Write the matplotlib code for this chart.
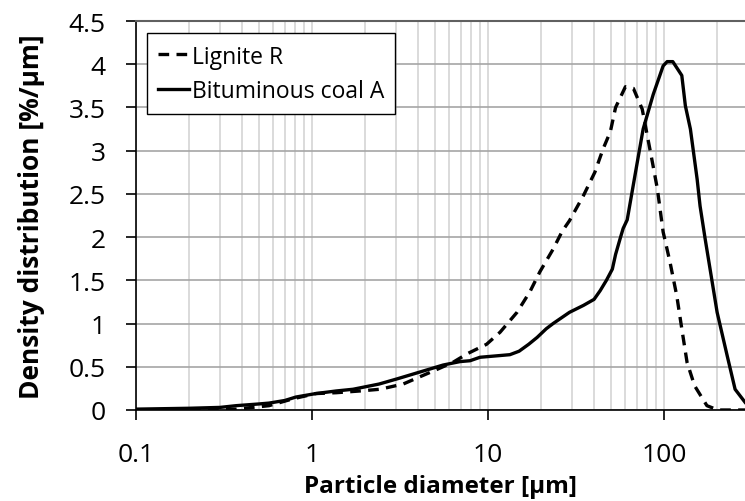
import matplotlib
matplotlib.use("Agg")
import matplotlib.pyplot as plt
from matplotlib.ticker import LogLocator, FixedLocator, FixedFormatter, NullFormatter

plt.rcParams['font.family'] = ['Open Sans', 'DejaVu Sans']

# Bituminous coal A
bit_x = [0.1, 0.2, 0.3, 0.37, 0.5, 0.57, 0.7, 0.81, 1.05, 1.37, 1.71, 2.4, 3.04, 4.11, 5.55,
         6.93, 7.9, 9.0, 11.7, 13.3, 15, 17, 19, 21.4, 23.4, 29, 34.8, 40, 43.3, 47, 50.8, 53,
         56.2, 58.5, 61.7, 70.3, 76, 86.7, 98.7, 104, 112, 126, 132, 141, 154, 160, 171, 200,
         228, 253, 288]
bit_y = [0.01, 0.02, 0.03, 0.05, 0.07, 0.08, 0.11, 0.15, 0.19, 0.22, 0.24, 0.30, 0.36, 0.44, 0.52,
         0.56, 0.57, 0.61, 0.63, 0.64, 0.68, 0.76, 0.84, 0.94, 1.0, 1.13, 1.21, 1.28, 1.38, 1.50,
         1.63, 1.8, 1.98, 2.1, 2.2, 2.86, 3.25, 3.65, 3.98, 4.03, 4.03, 3.87, 3.52, 3.25, 2.67,
         2.36, 1.98, 1.13, 0.63, 0.24, 0.09]

# Lignite R
lig_x = [0.1, 0.2, 0.37, 0.57, 0.78, 1.05, 1.37, 1.87, 2.43, 3.29, 4.27, 5.13, 6.3, 7.6, 9.8,
         11.7, 14.6, 17.3, 19.7, 23.4, 26.4, 29, 34.8, 40.4, 45, 49.5, 53, 60.3, 66.9, 75.1,
         80.3, 85.7, 91.5, 98.7, 108, 118, 126, 135, 149, 175, 202, 288]
lig_y = [0.0, 0.0, 0.01, 0.05, 0.13, 0.19, 0.20, 0.22, 0.24, 0.30, 0.40, 0.47, 0.55, 0.65, 0.76,
         0.90, 1.13, 1.37, 1.60, 1.86, 2.07, 2.19, 2.48, 2.75, 3.02, 3.22, 3.50, 3.74, 3.72, 3.48,
         3.17, 2.87, 2.56, 2.06, 1.71, 1.32, 0.94, 0.55, 0.28, 0.05, 0.0, 0.0]

x_ticks = [0.1, 1, 10, 100]
x_tick_labels = ['0.1', '1', '10', '100']
y_ticks = [0, 0.5, 1, 1.5, 2, 2.5, 3, 3.5, 4, 4.5]
y_tick_labels = ['0', '0.5', '1', '1.5', '2', '2.5', '3', '3.5', '4', '4.5']

fig = plt.figure(figsize=(7.45, 5.02), dpi=100)
ax = fig.add_axes([136/745, 1 - 411/502, 1 - 136/745, (411 - 22)/502])

ax.plot(lig_x, lig_y, color='black', lw=2.4, linestyle=(0, (3.2, 2.2)), label='Lignite R', zorder=3)
ax.plot(bit_x, bit_y, color='black', lw=2.4, label='Bituminous coal A', zorder=3)

ax.set_xscale('log')
ax.set_xlim(0.1, 288)
ax.set_ylim(0, 4.5)

ax.xaxis.set_major_locator(FixedLocator(x_ticks))
ax.xaxis.set_major_formatter(FixedFormatter(x_tick_labels))
ax.xaxis.set_minor_locator(LogLocator(base=10, subs=range(2, 10), numticks=20))
ax.xaxis.set_minor_formatter(NullFormatter())
ax.yaxis.set_major_locator(FixedLocator(y_ticks))
ax.yaxis.set_major_formatter(FixedFormatter(y_tick_labels))

ax.grid(True, which='major', axis='y', color='#a6a6a6', lw=1.2)
ax.grid(True, which='both', axis='x', color='#d4d4d4', lw=1.2)
ax.set_axisbelow(True)

ax.tick_params(axis='x', which='major', direction='out', length=7, width=1.2, colors='black',
               labelsize=19, pad=16)
ax.tick_params(axis='x', which='minor', length=0)
ax.tick_params(axis='y', which='major', direction='out', length=7, width=1.2, colors='black',
               labelsize=19, pad=15)

ax.spines['right'].set_visible(False)
ax.spines['top'].set_color('#606060')
ax.spines['top'].set_linewidth(1.5)
ax.spines['left'].set_color('black')
ax.spines['left'].set_linewidth(1.2)
ax.spines['bottom'].set_color('black')
ax.spines['bottom'].set_linewidth(1.2)

ax.set_xlabel('Particle diameter [μm]', fontsize=17.5, fontweight='bold', labelpad=5)
ax.set_ylabel('Density distribution [%/μm]', fontsize=19, fontweight='bold', labelpad=17)

leg = ax.legend(loc='upper left', bbox_to_anchor=(0.018, 0.969), fontsize=16.5, frameon=True,
                fancybox=False, edgecolor='black', framealpha=1, handlelength=1.35,
                handletextpad=0.1, borderpad=0.5, labelspacing=0.45, borderaxespad=0)
leg.get_frame().set_linewidth(1.0)

fig.savefig('out.png', dpi=100)
